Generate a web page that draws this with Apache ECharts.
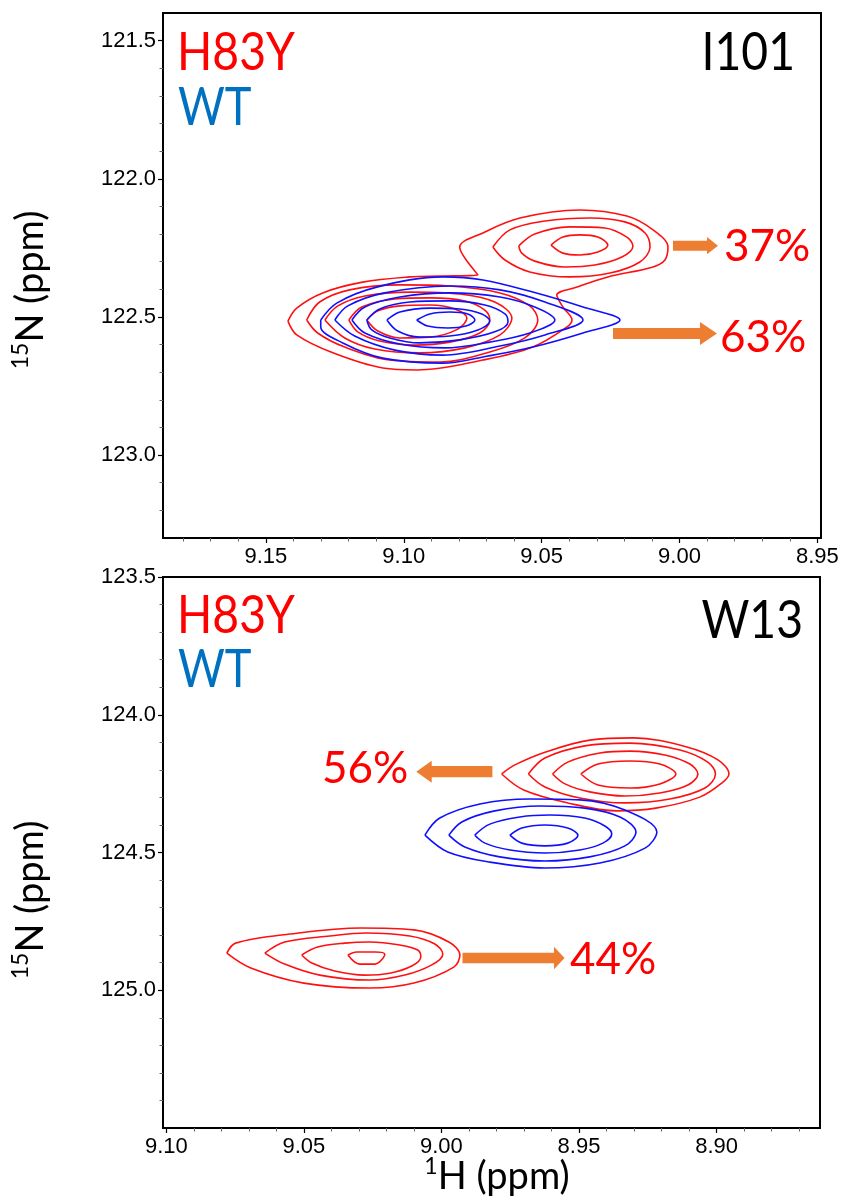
<!DOCTYPE html>
<html>
<head>
<meta charset="utf-8">
<title>I101 / W13 15N-1H spectra</title>
<script src="https://cdn.jsdelivr.net/npm/echarts@6/dist/echarts.min.js"></script>
<style>
  html, body { margin: 0; padding: 0; background: #fff; }
  #chart { width: 841px; height: 1200px; }
</style>
</head>
<body>
<div id="chart"></div>
<script>
// ---- axis ranges & tick labels (ppm) ----
const topX = [8.9487, 9.1873];
const topY = [121.4, 123.3];
const botX = [8.8624, 9.1012];
const botY = [123.5, 125.5];

const topXTicks = [9.15, 9.10, 9.05, 9.00, 8.95];
const topXMinor = [9.18, 9.17, 9.16, 9.14, 9.13, 9.12, 9.11, 9.09, 9.08, 9.07, 9.06, 9.04, 9.03, 9.02, 9.01, 8.99, 8.98, 8.97, 8.96];
const topYTicks = [121.5, 122.0, 122.5, 123.0];
const topYMinor = [121.6, 121.7, 121.8, 121.9, 122.1, 122.2, 122.3, 122.4, 122.6, 122.7, 122.8, 122.9, 123.1, 123.2];
const botXTicks = [9.10, 9.05, 9.00, 8.95, 8.90];
const botXMinor = [9.09, 9.08, 9.07, 9.06, 9.04, 9.03, 9.02, 9.01, 8.99, 8.98, 8.97, 8.96, 8.94, 8.93, 8.92, 8.91, 8.89, 8.88, 8.87];
const botYTicks = [123.5, 124.0, 124.5, 125.0];
const botYMinor = [123.6, 123.7, 123.8, 123.9, 124.1, 124.2, 124.3, 124.4, 124.6, 124.7, 124.8, 124.9, 125.1, 125.2, 125.3, 125.4];

// ---- I101 contours [1H, 15N] ----
// H83Y, outermost level enclosing both peaks
const i101RedOuter = [[9.142,122.515],[9.1388,122.468],[9.1294,122.413],[9.1149,122.374],[9.0978,122.355],[9.0869,122.352],[9.0731,122.348],[9.0797,122.247],[9.0713,122.196],[9.0579,122.142],[9.0361,122.113],[9.0191,122.135],[9.0096,122.185],[9.0042,122.247],[9.0053,122.294],[9.0096,122.319],[9.0263,122.356],[9.0372,122.392],[9.0445,122.421],[9.0423,122.464],[9.0390,122.511],[9.0408,122.536],[9.0532,122.609],[9.0713,122.656],[9.0953,122.692],[9.1076,122.685],[9.1257,122.630],[9.1388,122.565]];
// H83Y minor state (37%)
const i101RedB2 = [[9.0677,122.247],[9.0615,122.185],[9.0488,122.153],[9.0325,122.142],[9.0198,122.156],[9.0125,122.196],[9.0107,122.247],[9.0144,122.301],[9.0252,122.341],[9.0398,122.355],[9.0543,122.337],[9.0633,122.294]];
const i101RedB3 = [[9.0583,122.243],[9.0525,122.200],[9.0398,122.174],[9.0271,122.178],[9.0191,122.211],[9.0169,122.243],[9.0209,122.283],[9.0307,122.312],[9.0416,122.319],[9.0525,122.298],[9.0572,122.269]];
const i101RedB4 = [[9.0466,122.240],[9.0423,122.211],[9.0361,122.203],[9.0296,122.211],[9.0260,122.240],[9.0296,122.265],[9.0361,122.276],[9.0423,122.269]];
// H83Y major state (63%)
const i101RedA2 = [[9.1352,122.511],[9.1305,122.446],[9.1196,122.402],[9.1014,122.384],[9.0833,122.388],[9.0651,122.413],[9.0543,122.460],[9.0514,122.511],[9.0561,122.576],[9.0688,122.627],[9.0869,122.663],[9.1051,122.656],[9.1214,122.609],[9.1312,122.558]];
const i101RedA3 = [[9.1286,122.511],[9.1239,122.460],[9.1141,122.424],[9.0978,122.410],[9.0797,122.417],[9.0670,122.446],[9.0608,122.504],[9.0651,122.565],[9.0778,122.612],[9.0942,122.630],[9.1105,122.616],[9.1214,122.576]];
const i101RedA4 = [[9.1199,122.511],[9.1152,122.464],[9.1032,122.435],[9.0905,122.431],[9.0778,122.442],[9.0706,122.475],[9.0688,122.511],[9.0724,122.558],[9.0833,122.591],[9.0960,122.602],[9.1087,122.587],[9.1167,122.554]];
const i101RedA5 = [[9.1134,122.511],[9.1094,122.478],[9.1014,122.460],[9.0905,122.457],[9.0815,122.471],[9.0771,122.504],[9.0804,122.544],[9.0905,122.573],[9.1014,122.576],[9.1094,122.551]];
// WT
const i101Blue1 = [[9.1301,122.511],[9.1243,122.450],[9.1098,122.392],[9.0858,122.355],[9.0713,122.366],[9.0532,122.410],[9.0350,122.464],[9.0216,122.511],[9.0350,122.558],[9.0532,122.609],[9.0713,122.645],[9.0858,122.667],[9.1076,122.649],[9.1221,122.594],[9.1301,122.536]];
const i101Blue2 = [[9.1250,122.511],[9.1203,122.460],[9.1069,122.413],[9.0833,122.388],[9.0651,122.402],[9.0488,122.446],[9.0350,122.511],[9.0488,122.565],[9.0651,122.605],[9.0858,122.638],[9.1032,122.620],[9.1178,122.569]];
const i101Blue3 = [[9.1188,122.511],[9.1141,122.464],[9.1014,122.428],[9.0833,122.413],[9.0651,122.428],[9.0525,122.464],[9.0452,122.511],[9.0543,122.558],[9.0688,122.591],[9.0851,122.612],[9.1014,122.598],[9.1141,122.558]];
const i101Blue4 = [[9.1134,122.511],[9.1087,122.471],[9.0978,122.446],[9.0833,122.442],[9.0706,122.457],[9.0633,122.489],[9.0622,122.518],[9.0670,122.554],[9.0797,122.583],[9.0942,122.594],[9.1051,122.576],[9.1116,122.547]];
const i101Blue5 = [[9.1061,122.511],[9.1014,122.482],[9.0905,122.468],[9.0797,122.471],[9.0717,122.489],[9.0688,122.515],[9.0731,122.547],[9.0833,122.569],[9.0942,122.573],[9.1022,122.551]];
const i101Blue6 = [[9.0953,122.511],[9.0905,122.489],[9.0833,122.482],[9.0768,122.489],[9.0742,122.511],[9.0775,122.533],[9.0840,122.540],[9.0913,122.533]];

// ---- W13 contours ----
// H83Y state 1 (56%)
const w13RedA1 = [[8.9781,124.215],[8.9733,124.182],[8.9621,124.135],[8.9461,124.092],[8.9301,124.084],[8.9108,124.117],[8.8995,124.164],[8.8955,124.215],[8.8981,124.248],[8.9061,124.299],[8.9221,124.339],[8.9362,124.349],[8.9541,124.320],[8.9701,124.273]];
const w13RedA2 = [[8.9684,124.215],[8.9624,124.157],[8.9479,124.113],[8.9315,124.103],[8.9133,124.128],[8.9032,124.172],[8.9004,124.215],[8.9042,124.266],[8.9170,124.306],[8.9333,124.320],[8.9497,124.302],[8.9624,124.262]];
const w13RedA3 = [[8.9596,124.215],[8.9541,124.172],[8.9424,124.139],[8.9315,124.132],[8.9188,124.146],[8.9097,124.179],[8.9068,124.215],[8.9104,124.255],[8.9206,124.284],[8.9333,124.295],[8.9461,124.280],[8.9551,124.251]];
const w13RedA4 = [[8.9493,124.215],[8.9431,124.179],[8.9315,124.168],[8.9206,124.179],[8.9148,124.215],[8.9206,124.251],[8.9315,124.266],[8.9431,124.255]];
// WT
const w13Blue1 = [[9.0060,124.437],[9.0006,124.375],[8.9860,124.324],[8.9679,124.306],[8.9497,124.309],[8.9333,124.346],[8.9217,124.426],[8.9260,124.484],[8.9424,124.538],[8.9624,124.556],[8.9824,124.535],[8.9977,124.498]];
const w13Blue2 = [[8.9973,124.437],[8.9926,124.389],[8.9806,124.349],[8.9642,124.331],[8.9479,124.339],[8.9351,124.371],[8.9293,124.426],[8.9333,124.476],[8.9461,124.516],[8.9624,124.531],[8.9788,124.516],[8.9915,124.480]];
const w13Blue3 = [[8.9879,124.437],[8.9824,124.397],[8.9715,124.371],[8.9606,124.364],[8.9479,124.375],[8.9406,124.404],[8.9381,124.433],[8.9413,124.466],[8.9497,124.491],[8.9624,124.502],[8.9751,124.491],[8.9842,124.466]];
const w13Blue4 = [[8.9751,124.437],[8.9708,124.411],[8.9624,124.400],[8.9541,124.411],[8.9504,124.437],[8.9541,124.466],[8.9624,124.476],[8.9708,124.466]];
// H83Y state 2 (44%)
const w13RedB1 = [[9.0780,124.865],[9.0748,124.829],[9.0551,124.796],[9.0293,124.774],[9.0100,124.781],[8.9973,124.825],[8.9933,124.872],[8.9955,124.916],[9.0100,124.974],[9.0260,124.992],[9.0500,124.974],[9.0693,124.919]];
const w13RedB2 = [[9.0642,124.865],[9.0570,124.825],[9.0406,124.803],[9.0275,124.792],[9.0115,124.803],[9.0024,124.832],[8.9995,124.869],[9.0035,124.908],[9.0133,124.945],[9.0260,124.963],[9.0442,124.945],[9.0570,124.905]];
const w13RedB3 = [[9.0508,124.872],[9.0450,124.843],[9.0351,124.829],[9.0260,124.825],[9.0151,124.836],[9.0086,124.854],[9.0075,124.879],[9.0108,124.912],[9.0188,124.938],[9.0279,124.945],[9.0388,124.930],[9.0471,124.901]];
const w13RedB4 = [[9.0340,124.872],[9.0308,124.861],[9.0242,124.861],[9.0206,124.869],[9.0242,124.905],[9.0297,124.905]];

const RED = '#ff1010';
const BLUE = '#1010ff';
const ORANGE = '#ed7d31';
const TICK_FONT = 'Liberation Sans';
const ANNO_FONT = 'Lato';

function majorX(gi, range, ticks) {
  return {
    type: 'value', gridIndex: gi, position: 'bottom', inverse: true,
    min: range[0], max: range[1],
    axisLine: { show: true, onZero: false, lineStyle: { color: '#000', width: 2 } },
    axisTick: { show: true, customValues: ticks, length: 5, lineStyle: { color: '#000', width: 1.2 } },
    axisLabel: { customValues: ticks, margin: 8, color: '#000', fontFamily: TICK_FONT, fontSize: 22,
      formatter: v => v.toFixed(2) },
    splitLine: { show: false }
  };
}
function minorX(gi, range, ticks) {
  return {
    type: 'value', gridIndex: gi, position: 'bottom', inverse: true,
    min: range[0], max: range[1],
    axisLine: { show: false },
    axisTick: { show: true, customValues: ticks, length: 3.5, lineStyle: { color: '#666', width: 1 } },
    axisLabel: { show: false },
    splitLine: { show: false }
  };
}
function majorY(gi, range, ticks) {
  return {
    type: 'value', gridIndex: gi, position: 'left', inverse: true,
    min: range[0], max: range[1],
    axisLine: { show: true, onZero: false, lineStyle: { color: '#000', width: 2 } },
    axisTick: { show: true, customValues: ticks, length: 5, lineStyle: { color: '#000', width: 1.2 } },
    axisLabel: { customValues: ticks, margin: 7, color: '#000', fontFamily: TICK_FONT, fontSize: 22,
      formatter: v => v.toFixed(1) },
    splitLine: { show: false }
  };
}
function minorY(gi, range, ticks) {
  return {
    type: 'value', gridIndex: gi, position: 'left', inverse: true,
    min: range[0], max: range[1],
    axisLine: { show: false },
    axisTick: { show: true, customValues: ticks, length: 3.5, lineStyle: { color: '#666', width: 1 } },
    axisLabel: { show: false },
    splitLine: { show: false }
  };
}

function contour(data, color, gi) {
  return {
    type: 'line', xAxisIndex: gi * 2, yAxisIndex: gi * 2,
    data: data.concat([data[0]]),
    smooth: 0.35, symbol: 'none', silent: true,
    lineStyle: { color: color, width: 1.6 },
    itemStyle: { color: color }
  };
}

// big panel labels are narrower in the original (Calibri), squeeze Lato a bit
function label(text, x, y, color, size, align, sx) {
  return {
    type: 'text', x: x, y: y, scaleX: sx || 1, silent: true,
    style: { text: text, fill: color, font: size + 'px ' + ANNO_FONT, align: align || 'left', verticalAlign: 'middle' }
  };
}
function arrow(points) {
  return { type: 'polygon', silent: true, shape: { points: points }, style: { fill: ORANGE } };
}
function axisTitle(sup, main, x, y, rot) {
  return {
    type: 'text', x: x, y: y, rotation: rot, silent: true,
    style: {
      text: '{s|' + sup + '}{m|' + main + '}', align: 'center', verticalAlign: 'middle',
      rich: {
        s: { fontFamily: ANNO_FONT, fontSize: 23, fill: '#000', verticalAlign: 'top', lineHeight: 24 },
        m: { fontFamily: ANNO_FONT, fontSize: 38, fill: '#000', lineHeight: 44 }
      }
    }
  };
}

const chart = echarts.init(document.getElementById('chart'), null, { renderer: 'canvas' });

const series = [
  contour(i101RedOuter, RED, 0), contour(i101RedB2, RED, 0), contour(i101RedB3, RED, 0), contour(i101RedB4, RED, 0),
  contour(i101RedA2, RED, 0), contour(i101RedA3, RED, 0), contour(i101RedA4, RED, 0), contour(i101RedA5, RED, 0),
  contour(i101Blue1, BLUE, 0), contour(i101Blue2, BLUE, 0), contour(i101Blue3, BLUE, 0),
  contour(i101Blue4, BLUE, 0), contour(i101Blue5, BLUE, 0), contour(i101Blue6, BLUE, 0),
  contour(w13RedA1, RED, 1), contour(w13RedA2, RED, 1), contour(w13RedA3, RED, 1), contour(w13RedA4, RED, 1),
  contour(w13Blue1, BLUE, 1), contour(w13Blue2, BLUE, 1), contour(w13Blue3, BLUE, 1), contour(w13Blue4, BLUE, 1),
  contour(w13RedB1, RED, 1), contour(w13RedB2, RED, 1), contour(w13RedB3, RED, 1), contour(w13RedB4, RED, 1)
];

chart.setOption({
  animation: false,
  backgroundColor: '#fff',
  grid: [
    { left: 163, top: 13, width: 658, height: 525, show: true, borderColor: '#000', borderWidth: 2, outerBoundsMode: 'none' },
    { left: 163, top: 577, width: 657, height: 551, show: true, borderColor: '#000', borderWidth: 2, outerBoundsMode: 'none' }
  ],
  xAxis: [
    majorX(0, topX, topXTicks), minorX(0, topX, topXMinor),
    majorX(1, botX, botXTicks), minorX(1, botX, botXMinor)
  ],
  yAxis: [
    majorY(0, topY, topYTicks), minorY(0, topY, topYMinor),
    majorY(1, botY, botYTicks), minorY(1, botY, botYMinor)
  ],
  series: series,
  graphic: [
    label('H83Y', 177, 53, '#ff0000', 52, 'left', 0.89),
    label('WT', 178, 108, '#0070c0', 52, 'left', 0.87),
    label('I101', 795, 53, '#000', 52, 'right', 0.89),
    label('37%', 724, 247, '#ff0000', 44),
    label('63%', 720, 338, '#ff0000', 44),
    label('H83Y', 177, 616, '#ff0000', 52, 'left', 0.89),
    label('WT', 178, 670, '#0070c0', 52, 'left', 0.87),
    label('W13', 803, 621, '#000', 52, 'right', 0.89),
    label('56%', 322, 769, '#ff0000', 44),
    label('44%', 570, 960, '#ff0000', 44),
    arrow([[673, 240.7], [707, 240.7], [707, 237], [718, 245.7], [707, 254.3], [707, 250.7], [673, 250.7]]),
    arrow([[613, 328], [700, 328], [700, 322], [717, 333.5], [700, 345], [700, 339], [613, 339]]),
    arrow([[492.4, 766], [431.7, 766], [431.7, 760.7], [416.3, 771.7], [431.7, 782.7], [431.7, 777.3], [492.4, 777.3]]),
    arrow([[462.5, 952.7], [554, 952.7], [554, 946.7], [564.6, 958], [554, 969.3], [554, 963.3], [462.5, 963.3]]),
    axisTitle('15', 'N (ppm)', 31, 290, Math.PI / 2),
    axisTitle('15', 'N (ppm)', 31, 900, Math.PI / 2),
    axisTitle('1', 'H (ppm)', 497, 1177, 0)
  ]
});
</script>
</body>
</html>
